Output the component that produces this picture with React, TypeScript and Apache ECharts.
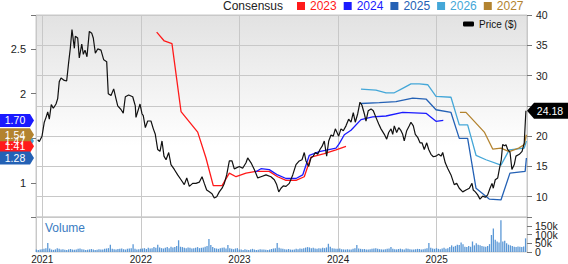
import React, { useEffect, useRef } from 'react';
import * as echarts from 'echarts';

// x values are decimal years
const xMin = 2020.936;
const xMax = 2025.916;

const priceData: [number, number][] = [
  [2020.953, 19.4], [2020.970, 19.1], [2020.997, 20.0], [2021.020, 22.3], [2021.038, 23.1], [2021.055, 24.0],
  [2021.071, 22.8], [2021.091, 25.2], [2021.112, 24.6], [2021.139, 25.3], [2021.156, 26.2], [2021.172, 29.0],
  [2021.190, 29.6], [2021.223, 29.2], [2021.247, 29.1], [2021.268, 32.3], [2021.284, 34.5], [2021.301, 37.6],
  [2021.325, 34.5], [2021.335, 36.5], [2021.359, 36.2], [2021.375, 32.9], [2021.400, 35.2], [2021.416, 33.5],
  [2021.433, 34.2], [2021.453, 33.1], [2021.477, 37.3], [2021.501, 37.0], [2021.517, 36.2], [2021.538, 33.7],
  [2021.562, 34.4], [2021.595, 34.2], [2021.623, 32.6], [2021.653, 32.3], [2021.669, 27.0], [2021.697, 26.7],
  [2021.724, 27.8], [2021.747, 26.2], [2021.765, 25.0], [2021.798, 24.4], [2021.821, 23.8], [2021.842, 26.5],
  [2021.876, 26.8], [2021.917, 26.5], [2021.943, 25.0], [2021.950, 23.1], [2021.991, 25.3], [2022.011, 23.7],
  [2022.024, 23.4], [2022.045, 21.4], [2022.069, 22.5], [2022.102, 22.5], [2022.126, 21.2], [2022.146, 20.3],
  [2022.170, 17.8], [2022.194, 17.5], [2022.214, 19.2], [2022.234, 16.7], [2022.255, 16.1], [2022.282, 17.3],
  [2022.305, 15.3], [2022.339, 14.5], [2022.373, 13.6], [2022.407, 12.8], [2022.440, 12.0], [2022.465, 13.1],
  [2022.491, 11.7], [2022.525, 12.2], [2022.559, 12.2], [2022.592, 12.4], [2022.620, 13.3], [2022.643, 12.2],
  [2022.667, 11.1], [2022.694, 10.8], [2022.721, 10.5], [2022.744, 9.8], [2022.769, 10.0], [2022.795, 10.8],
  [2022.823, 11.4], [2022.846, 12.2], [2022.870, 13.6], [2022.897, 15.9], [2022.924, 15.9], [2022.947, 14.6],
  [2022.998, 15.0], [2023.032, 14.7], [2023.066, 15.6], [2023.083, 16.4], [2023.117, 15.6], [2023.150, 14.5],
  [2023.185, 13.1], [2023.218, 13.3], [2023.269, 13.6], [2023.319, 13.3], [2023.353, 12.8], [2023.377, 12.0],
  [2023.398, 10.8], [2023.421, 11.4], [2023.444, 11.8], [2023.472, 11.7], [2023.505, 12.2], [2023.540, 13.6],
  [2023.573, 15.3], [2023.606, 15.9], [2023.634, 16.1], [2023.657, 17.3], [2023.674, 15.9], [2023.702, 15.0],
  [2023.725, 16.4], [2023.748, 16.7], [2023.769, 17.3], [2023.793, 17.0], [2023.816, 17.8], [2023.837, 18.3],
  [2023.860, 19.2], [2023.884, 16.7], [2023.905, 19.2], [2023.928, 20.2], [2023.951, 20.0], [2023.972, 21.2],
  [2024.006, 20.0], [2024.029, 21.2], [2024.053, 20.9], [2024.080, 21.7], [2024.107, 22.8], [2024.131, 22.3],
  [2024.154, 23.9], [2024.174, 22.3], [2024.199, 23.7], [2024.222, 25.6], [2024.242, 25.1], [2024.266, 23.7],
  [2024.283, 22.5], [2024.306, 24.2], [2024.334, 24.5], [2024.357, 24.2], [2024.384, 23.1], [2024.412, 22.0],
  [2024.435, 21.2], [2024.469, 20.3], [2024.493, 19.5], [2024.513, 20.6], [2024.537, 21.2], [2024.554, 20.3],
  [2024.570, 21.7], [2024.594, 20.6], [2024.615, 21.4], [2024.638, 20.9], [2024.655, 20.3], [2024.671, 19.2],
  [2024.696, 20.9], [2024.722, 21.7], [2024.739, 22.3], [2024.763, 21.7], [2024.783, 20.3], [2024.807, 19.8],
  [2024.831, 18.9], [2024.851, 18.9], [2024.874, 17.8], [2024.899, 18.9], [2024.919, 17.8], [2024.942, 17.0],
  [2024.966, 16.6], [2024.993, 16.7], [2025.020, 17.0], [2025.044, 16.7], [2025.061, 17.3], [2025.087, 15.6],
  [2025.111, 14.7], [2025.145, 13.6], [2025.178, 12.0], [2025.203, 12.2], [2025.229, 11.4], [2025.264, 10.8],
  [2025.297, 11.1], [2025.331, 11.4], [2025.358, 12.2], [2025.371, 11.1], [2025.392, 10.8], [2025.416, 10.3],
  [2025.439, 9.6], [2025.467, 10.1], [2025.493, 9.9], [2025.517, 10.3], [2025.541, 11.4], [2025.561, 12.2],
  [2025.574, 11.4], [2025.594, 12.8], [2025.619, 13.1], [2025.635, 14.5], [2025.655, 16.1], [2025.669, 18.6],
  [2025.690, 18.4], [2025.703, 18.6], [2025.720, 17.8], [2025.744, 17.3], [2025.763, 14.5], [2025.787, 15.3],
  [2025.804, 16.7], [2025.838, 17.0], [2025.866, 17.5], [2025.888, 18.9], [2025.905, 24.18],
];

const eps2023: [number, number][] = [
  [2022.160, 2.69], [2022.237, 2.59], [2022.315, 2.56], [2022.407, 1.80], [2022.576, 1.57], [2022.660, 1.28],
  [2022.734, 0.97], [2022.823, 0.97], [2022.897, 1.11], [2022.965, 1.07], [2023.066, 1.11], [2023.167, 1.13],
  [2023.302, 1.13], [2023.387, 1.07], [2023.472, 1.03], [2023.573, 1.03], [2023.657, 1.07], [2023.725, 1.29],
  [2023.860, 1.33], [2023.979, 1.37], [2024.080, 1.41],
];
const eps2024: [number, number][] = [
  [2023.157, 1.12], [2023.218, 1.16], [2023.302, 1.15], [2023.387, 1.09], [2023.472, 1.05], [2023.573, 1.05],
  [2023.641, 1.09], [2023.708, 1.31], [2023.809, 1.35], [2023.979, 1.39], [2024.012, 1.44], [2024.063, 1.54],
  [2024.131, 1.59], [2024.232, 1.71], [2024.351, 1.74], [2024.486, 1.75], [2024.655, 1.79], [2024.892, 1.78],
  [2024.993, 1.69], [2025.067, 1.70],
];
const eps2025: [number, number][] = [
  [2024.232, 1.89], [2024.418, 1.90], [2024.587, 1.91], [2024.757, 1.95], [2024.892, 1.94], [2024.993, 1.82],
  [2025.145, 1.79], [2025.229, 1.50], [2025.314, 1.50], [2025.399, 0.94], [2025.533, 0.82], [2025.652, 0.81],
  [2025.743, 1.11], [2025.897, 1.13], [2025.910, 1.28],
];
const eps2026: [number, number][] = [
  [2024.232, 2.05], [2024.384, 2.04], [2024.486, 2.01], [2024.570, 2.01], [2024.655, 2.06], [2024.739, 2.11],
  [2024.824, 2.11], [2024.909, 2.10], [2024.993, 1.97], [2025.145, 1.96], [2025.229, 1.65], [2025.314, 1.65],
  [2025.399, 1.31], [2025.500, 1.26], [2025.652, 1.20], [2025.736, 1.37], [2025.888, 1.39], [2025.910, 1.47],
];
const eps2027: [number, number][] = [
  [2025.236, 1.79], [2025.297, 1.79], [2025.483, 1.57], [2025.568, 1.38], [2025.652, 1.39], [2025.736, 1.35],
  [2025.832, 1.39], [2025.888, 1.43], [2025.910, 1.54],
];

const consensusNames = ['2023', '2024', '2025', '2026', '2027'];
const consensusColors = ['#ff1a1a', '#1a1aff', '#2461b5', '#44a7d8', '#b3832f'];
const consensusData = [eps2023, eps2024, eps2025, eps2026, eps2027];
const badgeOrder = ['2026', '2023', '2025', '2027', '2024'];

// weekly volume (thousands), first week at volumeStart
const volumeStart = 2020.94;
const vol2020 = [14, 12, 15];
const vol2021 = [16, 18, 22, 52, 20, 14, 12, 15, 22, 18, 14, 16, 13, 12, 15, 17, 14, 13, 15, 18, 20, 16, 14, 12, 13, 15,
  17, 14, 12, 13, 16, 14, 15, 18, 20, 22, 41, 18, 16, 15, 17, 19, 20, 16, 14, 18, 20, 22, 45, 18, 15, 16];
const vol2022 = [18, 20, 22, 17, 25, 20, 22, 28, 24, 42, 26, 22, 20, 25, 28, 22, 30, 26, 28, 35, 67, 30, 28, 25, 22, 26,
  24, 20, 22, 25, 28, 22, 24, 26, 30, 35, 75, 40, 28, 22, 20, 18, 22, 24, 26, 20, 40, 22, 18, 16, 20, 22];
const vol2023 = [15, 14, 12, 16, 13, 12, 15, 18, 14, 12, 13, 16, 14, 15, 13, 12, 14, 17, 20, 22, 52, 25, 20, 18, 16, 15,
  17, 14, 13, 15, 18, 16, 20, 18, 22, 25, 28, 26, 22, 24, 20, 18, 22, 20, 24, 22, 26, 47, 30, 22, 20, 18];
const vol2024 = [18, 20, 16, 15, 14, 16, 15, 14, 18, 22, 40, 20, 18, 16, 17, 15, 14, 16, 18, 20, 22, 18, 16, 15, 14, 16,
  18, 20, 28, 18, 16, 15, 17, 19, 16, 15, 20, 18, 16, 15, 14, 16, 18, 17, 15, 16, 18, 22, 52, 25, 20, 18];
const vol2025 = [22, 18, 16, 20, 25, 18, 22, 28, 38, 30, 35, 42, 40, 55, 45, 30, 28, 35, 30, 60, 38, 50, 42, 38, 35, 32,
  30, 35, 45, 97, 135, 70, 60, 55, 181, 60, 65, 50, 42, 38, 35, 30, 28, 32, 30, 28, 32, 78];
const volumeTicks = [0, 50000, 100000, 150000];
const volumeTickLabels = ['0', '50k', '100k', '150k'];

const FONT = 'Liberation Sans, Arial, sans-serif';

export default function App() {
  const ref = useRef<HTMLDivElement>(null);
  useEffect(() => {
    document.body.style.margin = '0';
    if (!ref.current) return;
    const chart = echarts.init(ref.current, null, { renderer: 'svg' });
    const volumes = [...vol2020, ...vol2021, ...vol2022, ...vol2023, ...vol2024, ...vol2025];
    const volumeData = volumes.map((v, i) => [volumeStart + i / 52, v * 1000]);
    const lastPrice = priceData[priceData.length - 1][1];

    const yearLabel = (v: number) => (Math.abs(v - Math.round(v)) < 1e-6 ? String(Math.round(v)) : '');

    const option: any = {
      animation: false,
      textStyle: { fontFamily: FONT },
      grid: [
        {
          left: 36, right: 41, top: 15, height: 202, show: true,
          backgroundColor: new echarts.graphic.LinearGradient(0, 0, 0, 1, [
            { offset: 0, color: '#e2e2e2' },
            { offset: 0.65, color: '#ffffff' },
            { offset: 1, color: '#ffffff' },
          ]),
          borderColor: '#c8c8c8', borderWidth: 1,
        },
        { left: 36, right: 41, top: 217, height: 36, show: true, backgroundColor: '#ffffff', borderColor: '#cfcfcf', borderWidth: 1 },
      ],
      legend: [
        {
          left: 297, top: 0, padding: 0, icon: 'rect', itemWidth: 8, itemHeight: 8, itemGap: 7,
          selectedMode: false, textStyle: { fontSize: 12, fontFamily: FONT },
          data: consensusNames.map((n, i) => ({ name: n, textStyle: { color: consensusColors[i] } })),
        },
        {
          left: 463, top: 19, padding: 0, icon: 'roundRect', itemWidth: 11, itemHeight: 5,
          selectedMode: false, textStyle: { fontSize: 10, color: '#111', fontFamily: FONT },
          data: ['Price ($)'],
        },
      ],
      xAxis: [
        {
          type: 'value', gridIndex: 0, min: xMin, max: xMax, minInterval: 1, maxInterval: 1,
          axisLine: { show: false }, axisTick: { show: false }, axisLabel: { show: false },
          splitLine: { show: true, lineStyle: { color: '#c8c8c8', width: 1 } },
        },
        {
          type: 'value', gridIndex: 1, min: xMin, max: xMax, minInterval: 1, maxInterval: 1,
          axisLine: { show: false }, axisTick: { show: false },
          axisLabel: { show: true, formatter: yearLabel, fontSize: 10, color: '#222', margin: 2, showMinLabel: false, showMaxLabel: false, hideOverlap: false },
          splitLine: { show: true, lineStyle: { color: '#c8c8c8', width: 1 } },
        },
      ],
      yAxis: [
        {
          type: 'value', gridIndex: 0, position: 'left', min: 0.619, max: 2.881, minInterval: 0.5, maxInterval: 0.5,
          axisLine: { show: false },
          axisTick: { show: true, length: 5, lineStyle: { color: '#777' } },
          axisLabel: {
            fontSize: 11, color: '#222', margin: 10, hideOverlap: false,
            formatter: (v: number) => {
              const r = Math.round(v * 2) / 2;
              if (Math.abs(v - r) > 1e-6 || Math.abs(r - 1.5) < 1e-6) return '';
              return String(r);
            },
          },
          splitLine: { show: false },
        },
        {
          type: 'value', gridIndex: 0, position: 'right', min: 6.65, max: 40, minInterval: 5, maxInterval: 5,
          axisLine: { show: false },
          axisTick: { show: true, length: 5, lineStyle: { color: '#777' } },
          axisLabel: {
            fontSize: 10.5, color: '#222', margin: 9, hideOverlap: false,
            formatter: (v: number) =>
              Math.abs(v / 5 - Math.round(v / 5)) < 1e-6 && Math.abs(v - lastPrice) > 2.5 ? String(Math.round(v)) : '',
          },
          splitLine: { show: true, lineStyle: { color: '#c8c8c8', width: 1 } },
        },
        {
          type: 'value', gridIndex: 1, position: 'right', min: 0, max: 200000, interval: 50000,
          axisLine: { show: false },
          axisTick: { show: true, length: 5, lineStyle: { color: '#777' } },
          axisLabel: { show: false },
          splitLine: { show: false },
        },
      ],
      series: [
        {
          name: 'Volume', type: 'bar', xAxisIndex: 1, yAxisIndex: 2, data: volumeData,
          barWidth: 1.3, itemStyle: { color: '#5b98d6' },
        },
        ...consensusNames.map((n, i) => ({
          name: n, type: 'line', xAxisIndex: 0, yAxisIndex: 0, data: consensusData[i],
          showSymbol: false, symbol: 'none', color: consensusColors[i],
          lineStyle: { color: consensusColors[i], width: 1.3 },
        })),
        {
          name: 'Price ($)', type: 'line', xAxisIndex: 0, yAxisIndex: 1, data: priceData,
          showSymbol: false, symbol: 'none', color: '#000',
          lineStyle: { color: '#111', width: 1.2 },
        },
      ],
    };
    chart.setOption(option);

    const graphics: any[] = [
      {
        type: 'text', x: 223, y: 0, z: 100,
        style: { text: 'Consensus', fill: '#222', fontSize: 12, fontFamily: FONT, verticalAlign: 'top' },
      },
      {
        type: 'text', x: 45, y: 222, z: 100,
        style: { text: 'Volume', fill: '#3a7cc2', fontSize: 12, fontFamily: FONT, verticalAlign: 'top' },
      },
    ];
    volumeTicks.forEach((t, k) => {
      const y = chart.convertToPixel({ yAxisIndex: 2 } as any, t) as unknown as number;
      graphics.push({
        type: 'text', x: 535, y, z: 100,
        style: { text: volumeTickLabels[k], fill: '#222', fontSize: 10.5, fontFamily: FONT, align: 'left', verticalAlign: 'middle' },
      });
    });
    const h = 13;
    badgeOrder.forEach((name) => {
      const i = consensusNames.indexOf(name);
      const d = consensusData[i];
      const last = d[d.length - 1][1];
      const y = chart.convertToPixel({ yAxisIndex: 0 } as any, last) as unknown as number;
      graphics.push({
        type: 'group', z: 100,
        children: [
          {
            type: 'polygon', z: 100,
            shape: { points: [[0, y - h / 2], [30, y - h / 2], [34, y], [30, y + h / 2], [0, y + h / 2]] },
            style: { fill: consensusColors[i] },
          },
          {
            type: 'text', x: 15, y, z: 101,
            style: { text: last.toFixed(2), fill: '#fff', fontSize: 10.5, fontFamily: FONT, align: 'center', verticalAlign: 'middle' },
          },
        ],
      });
    });
    const py = chart.convertToPixel({ yAxisIndex: 1 } as any, lastPrice) as unknown as number;
    graphics.push({
      type: 'group', z: 100,
      children: [
        {
          type: 'polygon', z: 100,
          shape: { points: [[527, py], [534, py - 8], [568, py - 8], [568, py + 8], [534, py + 8]] },
          style: { fill: '#000' },
        },
        {
          type: 'text', x: 550, y: py, z: 101,
          style: { text: lastPrice.toFixed(2), fill: '#fff', fontSize: 10.5, fontFamily: FONT, align: 'center', verticalAlign: 'middle' },
        },
      ],
    });
    chart.setOption({ graphic: graphics });

    return () => chart.dispose();
  }, []);
  return <div ref={ref} style={{ width: 568, height: 264, position: 'absolute', left: 0, top: 0 }} />;
}
